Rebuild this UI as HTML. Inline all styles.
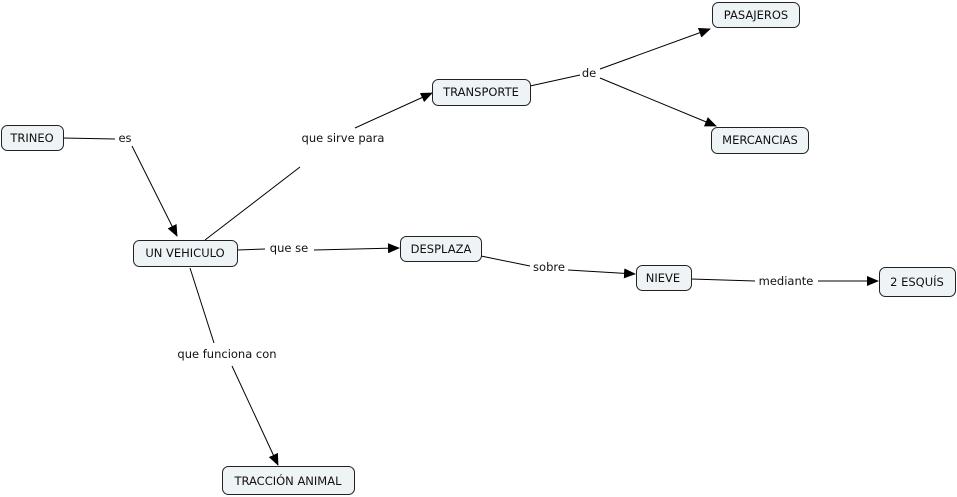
<!DOCTYPE html>
<html><head><meta charset="utf-8"><style>
html,body{margin:0;padding:0;background:#fff;width:957px;height:497px;overflow:hidden}
svg text{font-family:"DejaVu Sans","Liberation Sans",sans-serif;font-size:11.5px;fill:#111}
</style></head><body>
<svg width="957" height="497" viewBox="0 0 957 497" xmlns="http://www.w3.org/2000/svg">
<defs><marker id="a" markerWidth="12" markerHeight="10" refX="11" refY="5" orient="auto" markerUnits="userSpaceOnUse"><path d="M0,0 L12,5 L0,10 z" fill="#000"/></marker></defs>
<g stroke="#000" stroke-width="1" fill="none">
<line x1="63" y1="138" x2="115" y2="139"/>
<line x1="132" y1="146" x2="177" y2="236" marker-end="url(#a)"/>
<line x1="205" y1="240" x2="300" y2="167"/>
<line x1="355" y1="128" x2="432" y2="93" marker-end="url(#a)"/>
<line x1="530" y1="86" x2="580" y2="75"/>
<line x1="600" y1="69" x2="710" y2="29" marker-end="url(#a)"/>
<line x1="600" y1="78" x2="716" y2="126" marker-end="url(#a)"/>
<line x1="237" y1="250" x2="265" y2="249"/>
<line x1="314" y1="250" x2="399" y2="248" marker-end="url(#a)"/>
<line x1="481" y1="256" x2="530" y2="266"/>
<line x1="568" y1="270" x2="635" y2="274" marker-end="url(#a)"/>
<line x1="691" y1="279" x2="755" y2="281"/>
<line x1="818" y1="281" x2="878" y2="281" marker-end="url(#a)"/>
<line x1="190" y1="268" x2="214" y2="343"/>
<line x1="232" y1="366" x2="278" y2="465" marker-end="url(#a)"/>
</g>
<g fill="#eef3f6" stroke="#222" stroke-width="1">
<rect x="1.5" y="125.5" width="62" height="25" rx="6"/>
<rect x="133.5" y="240.5" width="104" height="26" rx="6"/>
<rect x="432.5" y="79.5" width="98" height="26" rx="6"/>
<rect x="712.5" y="2.5" width="87" height="25" rx="6"/>
<rect x="711.5" y="127.5" width="97" height="26" rx="6"/>
<rect x="400.5" y="236.5" width="81" height="25" rx="6"/>
<rect x="636.5" y="265.5" width="55" height="25" rx="6"/>
<rect x="879.5" y="267.5" width="76" height="29" rx="6"/>
<rect x="222.5" y="466.5" width="132" height="28" rx="6"/>
</g>
<g text-anchor="middle">
<text x="32" y="142">TRINEO</text>
<text x="185" y="257">UN VEHICULO</text>
<text x="481" y="96">TRANSPORTE</text>
<text x="756" y="19">PASAJEROS</text>
<text x="760" y="144">MERCANCIAS</text>
<text x="441" y="253">DESPLAZA</text>
<text x="663" y="282">NIEVE</text>
<text x="917" y="286">2 ESQUÍS</text>
<text x="288" y="485">TRACCIÓN ANIMAL</text>
<text x="125" y="142">es</text>
<text x="343" y="142">que sirve para</text>
<text x="589" y="77">de</text>
<text x="289" y="252">que se</text>
<text x="549" y="271">sobre</text>
<text x="786" y="285">mediante</text>
<text x="227" y="358">que funciona con</text>
</g>
</svg>
</body></html>
